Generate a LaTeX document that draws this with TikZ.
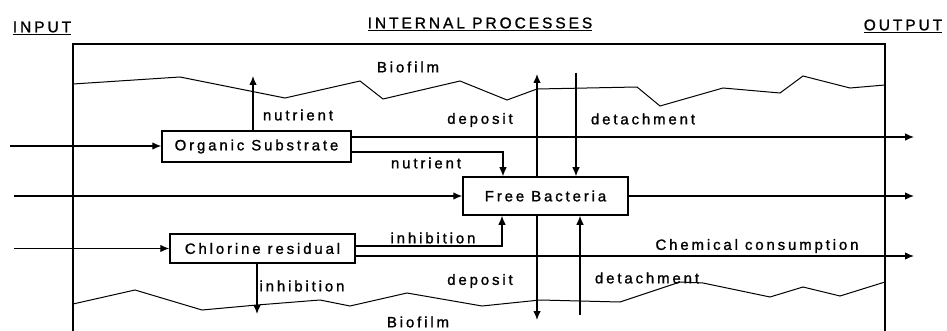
\documentclass[tikz,border=0pt]{standalone}
\usepackage{fontspec}
\setmainfont{Liberation Sans}[LetterSpace=19,FakeBold=1.2]
\usetikzlibrary{arrows.meta,positioning}

\begin{document}
\begin{tikzpicture}[
  x=1pt,y=-1pt,
  box/.style={rectangle,draw=black,line width=1.5pt,inner sep=0pt,font=\fontsize{15}{17}\selectfont},
  lbl/.style={inner sep=0pt,font=\fontsize{15}{17}\selectfont},
  head/.style={inner sep=0pt,font=\fontsize{15.5}{18}\selectfont},
  arr/.style={-{Latex[length=9pt,width=7.5pt]},line width=1.1pt},
  film/.style={line width=1pt}
]
\useasboundingbox (0,0) rectangle (947,331);
% system boundary and biofilm layers
\draw[line width=1.6pt] (73,340) -- (73,44) -- (885,44) -- (885,340);
\draw[film] (73,84) -- (180,77) -- (285,98) -- (360,81) -- (383,99) -- (460,81) -- (507,100)
  -- (537,89) -- (637,87) -- (660,106) -- (723,88) -- (780,93) -- (803,76) -- (850,88) -- (885,85);
\draw[film] (73,304) -- (135,290) -- (202,310) -- (257,305) -- (320,300) -- (350,306) -- (407,293)
  -- (482,306) -- (540,300) -- (620,302) -- (680,282) -- (703,283) -- (770,297) -- (803,287)
  -- (840,296) -- (885,282);
% headings
\node[head] (input) at (42,28) {\underline{INPUT}};
\node[head] (internal) at (480,24) {\underline{INTERNAL PROCESSES}};
\node[head] (output) at (903,26) {\underline{OUTPUT}};
% process boxes
\node[box,minimum width=189pt,minimum height=31pt] (org) at (256.5,146.5) {Organic Substrate};
\node[box,minimum width=165pt,minimum height=38pt] (fb) at (545.5,196) {Free Bacteria};
\node[box,minimum width=185pt,minimum height=29pt] (chl) at (262.5,248.5) {Chlorine residual};
% free ends
\coordinate (inorg) at (10,146);
\coordinate (infb) at (14,196);
\coordinate (inchl) at (14,248.5);
\coordinate (outtop) at (914,137);
\coordinate (outfb) at (914,196);
\coordinate (outchem) at (914,256);
\coordinate (nutup) at (253,76);
\coordinate (inhdown) at (257,314);
\coordinate (deptop) at (537,74);
\coordinate (dettop) at (576,73);
\coordinate (depbot) at (537,320);
\coordinate (detbot) at (580,315);
% connectors
\draw[arr] (inorg) -- (inorg -| org.west);
\draw[arr] (infb) -- (fb.west);
\draw[arr] (inchl) -- (inchl -| chl.west);
\draw[arr] ([yshift=9.5pt]org.east) -- (outtop);
\draw[arr] ([yshift=-5.5pt]org.east) -| ([xshift=-42.5pt]fb.north);
\draw[arr] (nutup |- org.north) -- (nutup);
\draw[arr] (deptop |- fb.north) -- (deptop);
\draw[arr] (dettop) -- (dettop |- fb.north);
\draw[arr] (depbot |- fb.south) -- (depbot);
\draw[arr] (detbot) -- (detbot |- fb.south);
\draw[arr] (fb.east) -- (outfb);
\draw[arr] ([yshift=2.5pt]chl.east) -| ([xshift=-43.5pt]fb.south);
\draw[arr] ([yshift=-7.5pt]chl.east) -- (outchem);
\draw[arr] (inhdown |- chl.south) -- (inhdown);
% labels
\node[lbl] (biotop) at (408,67) {Biofilm};
\node[lbl] (nutr1) at (298,115) {nutrient};
\node[lbl] (dep1) at (480,120) {deposit};
\node[lbl] (det1) at (643,119) {detachment};
\node[lbl] (nutr2) at (426,163) {nutrient};
\node[lbl] (inh1) at (433,238) {inhibition};
\node[lbl] (chem) at (757,246) {Chemical consumption};
\node[lbl] (inh2) at (302,286) {inhibition};
\node[lbl] (dep2) at (480,281) {deposit};
\node[lbl] (det2) at (647,278) {detachment};
\node[lbl] (biobot) at (418,322) {Biofilm};
\end{tikzpicture}
\end{document}
